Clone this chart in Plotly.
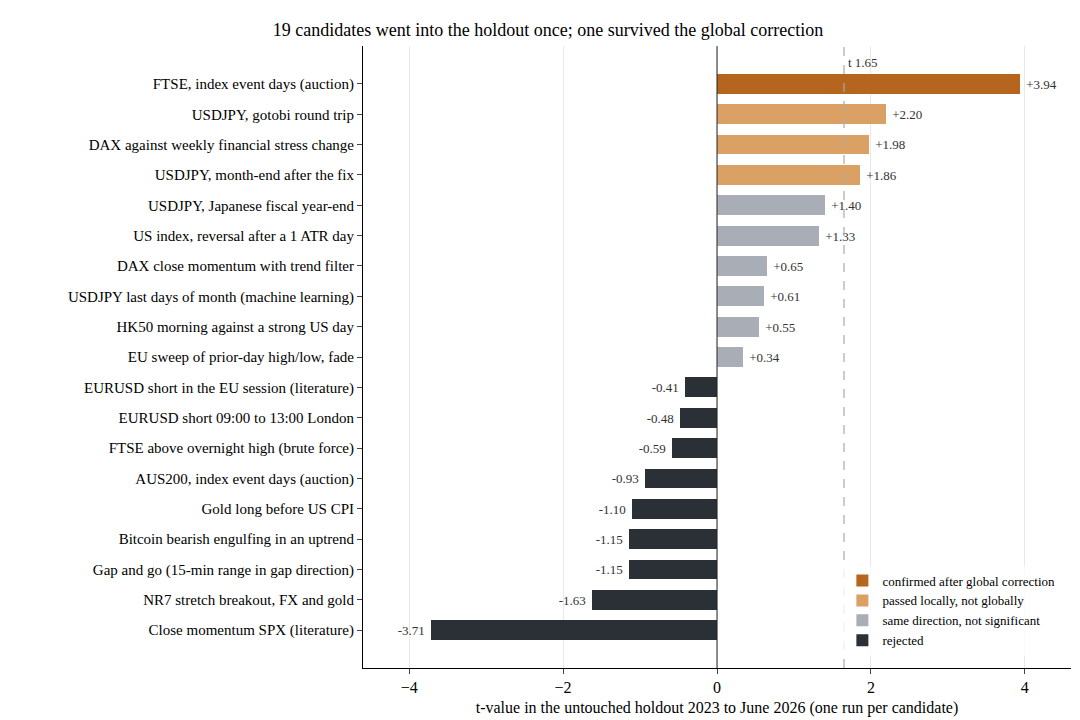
import plotly.graph_objects as go

labels = [
    "FTSE, index event days (auction)",
    "USDJPY, gotobi round trip",
    "DAX against weekly financial stress change",
    "USDJPY, month-end after the fix",
    "USDJPY, Japanese fiscal year-end",
    "US index, reversal after a 1 ATR day",
    "DAX close momentum with trend filter",
    "USDJPY last days of month (machine learning)",
    "HK50 morning against a strong US day",
    "EU sweep of prior-day high/low, fade",
    "EURUSD short in the EU session (literature)",
    "EURUSD short 09:00 to 13:00 London",
    "FTSE above overnight high (brute force)",
    "AUS200, index event days (auction)",
    "Gold long before US CPI",
    "Bitcoin bearish engulfing in an uptrend",
    "Gap and go (15-min range in gap direction)",
    "NR7 stretch breakout, FX and gold",
    "Close momentum SPX (literature)",
]
t_values = [3.94, 2.20, 1.98, 1.86, 1.40, 1.33, 0.65, 0.61, 0.55, 0.34,
            -0.41, -0.48, -0.59, -0.93, -1.10, -1.15, -1.15, -1.63, -3.71]
groups = ["confirmed"] + ["passed"] * 3 + ["same"] * 6 + ["rejected"] * 9

group_names = {
    "confirmed": "confirmed after global correction",
    "passed": "passed locally, not globally",
    "same": "same direction, not significant",
    "rejected": "rejected",
}
colors = {"confirmed": "#b5651d", "passed": "#dba063", "same": "#a9aeb6", "rejected": "#2b2f36"}
threshold = 1.65

fig = go.Figure()
for g in ["confirmed", "passed", "same", "rejected"]:
    idx = [i for i, gg in enumerate(groups) if gg == g]
    vals = [t_values[i] for i in idx]
    fig.add_trace(go.Bar(
        x=vals, y=idx, orientation="h", name=group_names[g],
        marker=dict(color=colors[g], line_width=0), width=0.65,
        text=[f" {v:+.2f}" if v > 0 else f"{v:.2f} " for v in vals],
        textposition="outside", cliponaxis=False,
        textfont=dict(size=13, color="#333"),
    ))

fig.add_vline(x=threshold, line=dict(color="#aaaaaa", width=1.2, dash="dash"))
fig.add_vline(x=0, line=dict(color="#222", width=1))
fig.add_annotation(x=threshold, y=-0.7, text="t 1.65", showarrow=False,
                   xanchor="left", xshift=2, font=dict(size=13, color="#333"))

fig.update_layout(
    width=1080, height=720,
    font=dict(family="Liberation Serif", size=15, color="black"),
    title=dict(text="19 candidates went into the holdout once; one survived the global correction",
               x=0.5, xanchor="center", y=0.978, font=dict(size=18)),
    plot_bgcolor="white", paper_bgcolor="white",
    margin=dict(l=355, r=17, t=38, b=60),
    barmode="overlay", bargap=0,
    legend=dict(x=0.985, y=0.02, xanchor="right", yanchor="bottom",
                font=dict(size=13), bgcolor="rgba(255,255,255,0.8)",
                traceorder="normal", tracegroupgap=0, itemwidth=30),
    xaxis=dict(range=[-4.6, 4.6], tickvals=[-4, -2, 0, 2, 4],
               ticktext=["\u22124", "\u22122", "0", "2", "4"],
               showgrid=True, gridcolor="#e8e8e8", zeroline=False,
               showline=True, linecolor="black", ticks="outside",
               tickfont=dict(size=16),
               title=dict(text="t-value in the untouched holdout 2023 to June 2026 (one run per candidate)",
                          font=dict(size=16), standoff=6)),
    yaxis=dict(range=[18 + 1.25, -1.25], tickvals=list(range(len(labels))), ticktext=labels,
               showgrid=False, zeroline=False, showline=True, linecolor="black",
               ticks="outside", tickfont=dict(size=15)),
)
fig.write_html("out.html")
